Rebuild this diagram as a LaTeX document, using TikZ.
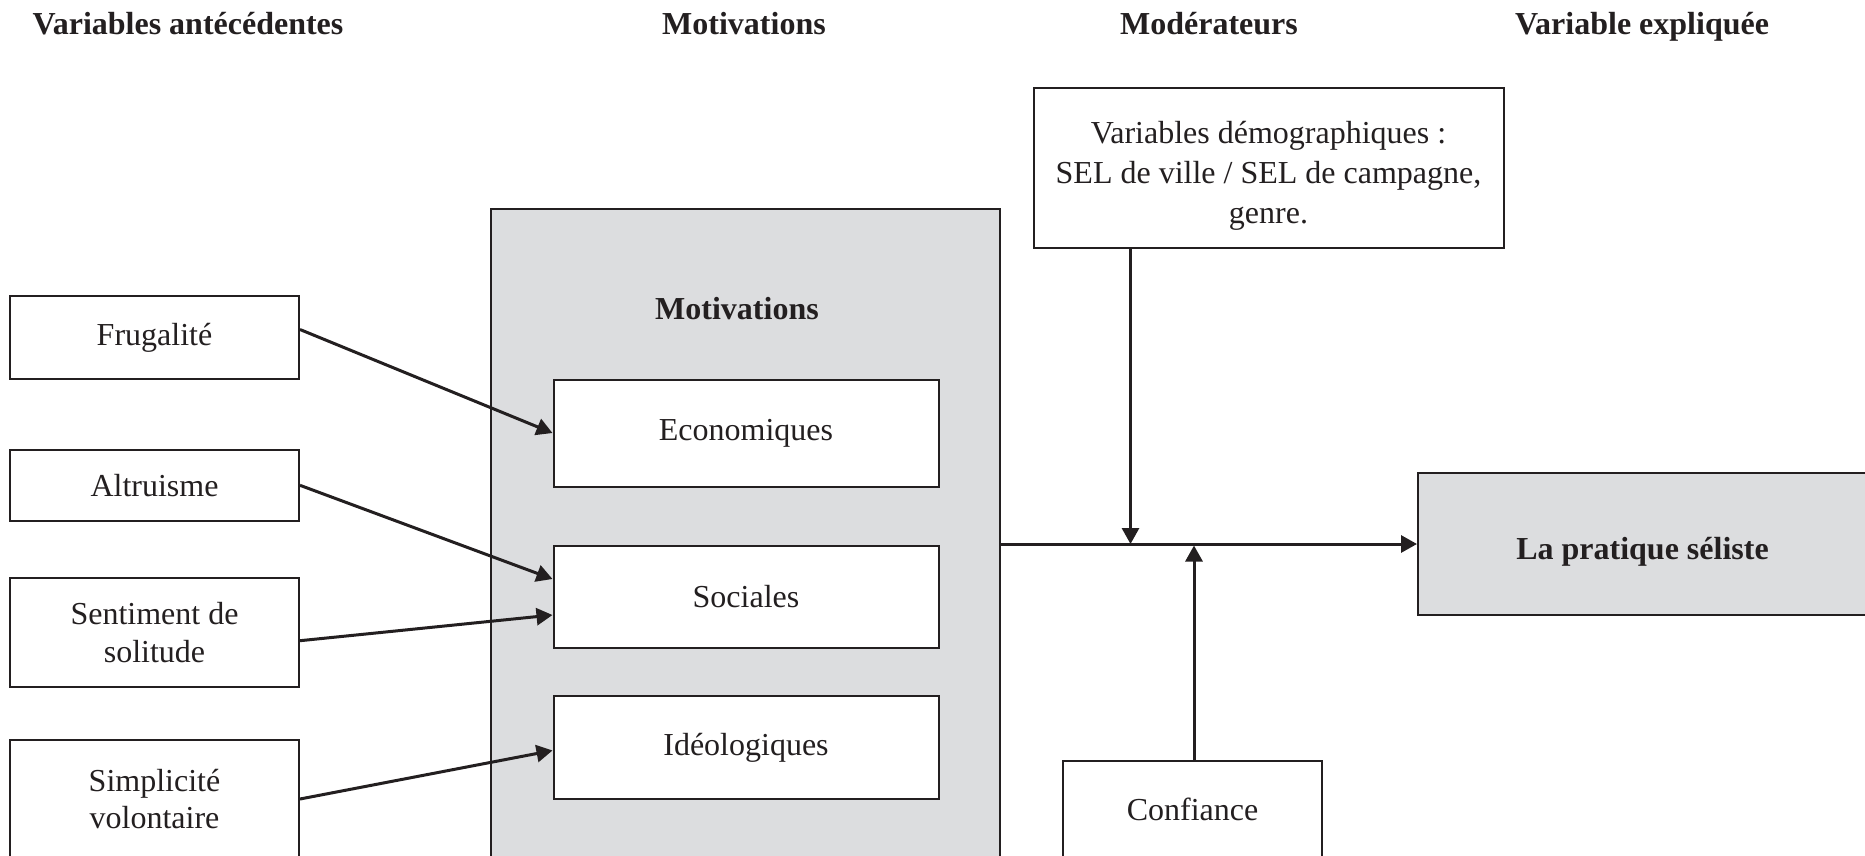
\documentclass[tikz,border=0pt]{standalone}
\usepackage{fontspec}
\setmainfont{Liberation Serif}
\usetikzlibrary{arrows.meta}
\definecolor{trait}{HTML}{231F20}
\definecolor{gris}{HTML}{DCDDDF}
\begin{document}
\begin{tikzpicture}[x=1pt,y=-1pt,
   every node/.style={font=\fontsize{32}{37.5}\selectfont,text=trait},
   boite/.style={draw=trait,line width=2pt,fill=white,align=center,inner sep=0pt},
   fleche/.style={draw=trait,line width=3pt,-{Triangle[length=16pt,width=17pt]}},
   titre/.style={font=\fontsize{32}{37.5}\selectfont\bfseries}]
   \useasboundingbox (0,0) rectangle (1865,855);
   \node[titre,anchor=base] (tvar) at (188,34) {Variables antécédentes};
   \node[titre,anchor=base] (tmot) at (744,34) {Motivations};
   \node[titre,anchor=base] (tmod) at (1209,34) {Modérateurs};
   \node[titre,anchor=base] (texp) at (1642,34) {Variable expliquée};
   \node[boite,fill=gris,minimum width=509pt,minimum height=670pt] (motiv) at (745,544) {};
   \node[titre] (mtitre) at (737,309) {Motivations};
   \node[boite,minimum width=385pt,minimum height=107pt] (eco) at (746,433) {Economiques};
   \node[boite,minimum width=385pt,minimum height=102pt] (soc) at (746,597) {Sociales};
   \node[boite,minimum width=385pt,minimum height=103pt] (ideo) at (746,747.5) {Idéologiques};
   \node[boite,minimum width=289pt,minimum height=83pt] (frug) at (154.5,337.5) {Frugalité};
   \node[boite,minimum width=289pt,minimum height=71pt] (altr) at (154.5,485.3) {Altruisme};
   \node[boite,minimum width=289pt,minimum height=109pt] (senti) at (154.5,632.7) {Sentiment de\\solitude};
   \node[boite,minimum width=289pt,minimum height=118pt] (simpl) at (154.5,799) {Simplicité\\volontaire};
   \node[boite,font=\fontsize{32}{40}\selectfont,text height=117pt,text depth=7pt,minimum width=470pt,minimum height=160pt] (demo) at (1268.5,168.3) {Variables démographiques :\\SEL de ville / SEL de campagne,\\genre.};
   \node[boite,fill=gris,text height=38pt,text depth=7pt,minimum width=449pt,minimum height=142pt] (prat) at (1642.5,544) {\bfseries La pratique séliste};
   \node[boite,minimum width=259pt,minimum height=96pt] (conf) at (1192.5,809) {Confiance};
   \draw[fleche] ([yshift=8pt]frug.east) -- (eco.west);
   \draw[fleche] (altr.east) -- ([yshift=18pt]soc.west);
   \draw[fleche] ([yshift=-8pt]senti.east) -- ([yshift=-18pt]soc.west);
   \draw[fleche] (simpl.east) -- ([yshift=-3pt]ideo.west);
   \draw[fleche] (motiv.east) -- (prat.west);
   \draw[fleche] ([xshift=-138pt]demo.south) -- ([xshift=-138pt]demo.south |- prat.west);
   \draw[fleche] ([xshift=1.5pt]conf.north) -- ([xshift=1.5pt,yshift=-1.5pt]conf.north |- prat.west);
\end{tikzpicture}
\end{document}
